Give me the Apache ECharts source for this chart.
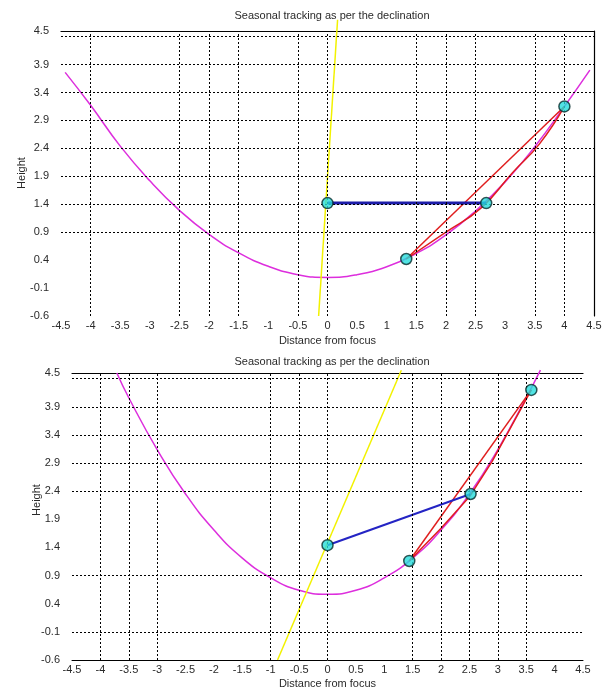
<!DOCTYPE html>
<html>
<head>
<meta charset="utf-8" />
<title>Seasonal tracking as per the declination</title>
<script src="https://cdn.jsdelivr.net/npm/echarts@6/dist/echarts.min.js"></script>
<style>
	html, body { margin:0; padding:0; background:#fff; }
	#main { width:609px; height:688px; }
</style>
</head>
<body>
<div id="main"></div>
<script type="text/javascript">
// ---- data ----
var titles = ['Seasonal tracking as per the declination', 'Seasonal tracking as per the declination'];
var xName = 'Distance from focus';
var yName = 'Height';

// upper plot
var topCurveX = [-4.43, -4, -3.5, -3, -2.5, -2, -1.5, -1, -0.5, 0, 0.5, 1, 1.5, 2, 2.5, 3, 3.5, 4, 4.43];
var topCurveY = [3.76, 3.17, 2.44, 1.82, 1.29, 0.86, 0.53, 0.29, 0.14, 0.09, 0.14, 0.28, 0.52, 0.85, 1.28, 1.8, 2.43, 3.15, 3.8];
var topAxisLineX = [-0.15, 0.17];
var topAxisLineY = [-0.6, 4.7];
var topBeamX = [0, 2.68];
var topBeamY = [1.42, 1.42];
var topRayAX = [1.33, 4.0];
var topRayAY = [0.42, 3.15];
var topRayBX = [1.33, 2.0, 2.6, 3.12, 3.58, 4.0];
var topRayBY = [0.42, 0.9, 1.34, 1.96, 2.48, 3.15];
var topPointsX = [0, 2.68, 1.33, 4.0];
var topPointsY = [1.42, 1.42, 0.42, 3.15];
var topGridX = [-4, -2.5, -2, -1.5, -0.5, 0, 1.5, 2, 2.5, 3.5, 4];
var topGridY = [0.9, 1.4, 1.9, 2.4, 2.9, 3.4, 3.9, 4.4];

// lower plot
var botCurveX = [-3.71, -3.5, -3, -2.5, -2, -1.5, -1, -0.5, 0, 0.5, 1, 1.5, 2, 2.5, 3, 3.5, 3.75];
var botCurveY = [4.5, 4.06, 3.14, 2.35, 1.71, 1.21, 0.86, 0.64, 0.57, 0.64, 0.86, 1.21, 1.71, 2.35, 3.14, 4.06, 4.55];
var botAxisLineX = [-0.88, 1.3];
var botAxisLineY = [-0.6, 4.55];
var botBeamX = [0, 2.52];
var botBeamY = [1.44, 2.35];
var botRayAX = [1.44, 3.59];
var botRayAY = [1.16, 4.2];
var botRayBX = [1.44, 2.0, 2.5, 2.9, 3.59];
var botRayBY = [1.16, 1.74, 2.3, 2.93, 4.2];
var botPointsX = [0, 2.52, 1.44, 3.59];
var botPointsY = [1.44, 2.35, 1.16, 4.2];
var botGridX = [-4, -3.5, -3, -1, -0.5, 0, 1.5, 2, 2.5, 3, 3.5];
var botGridY = [-0.1, 0.9, 2.4, 2.9, 3.4, 3.9, 4.4];

// ---- helpers ----
function zip(xs, ys) {
	var out = [];
	for (var i = 0; i < xs.length; i++) out.push([xs[i], ys[i]]);
	return out;
}
var txt = '#2a2a2a';
var font = 'Liberation Sans, Arial, sans-serif';

function lineSeries(xi, yi, xs, ys, color, width, z, smooth) {
	return {
		type: 'line', xAxisIndex: xi, yAxisIndex: yi,
		data: zip(xs, ys), showSymbol: false, symbol: 'none',
		clip: false, silent: true, z: z, smooth: !!smooth,
		lineStyle: { color: color, width: width }
	};
}
function gridSeries(xi, yi, gx, gy) {
	var lines = [];
	gx.forEach(function (v) { lines.push({ xAxis: v }); });
	gy.forEach(function (v) { lines.push({ yAxis: v }); });
	return {
		type: 'line', xAxisIndex: xi, yAxisIndex: yi, data: [], z: 1, silent: true,
		markLine: {
			silent: true, symbol: ['none', 'none'], animation: false,
			label: { show: false },
			lineStyle: { color: '#000', width: 1, type: [2, 2] },
			data: lines
		}
	};
}
function pointSeries(xi, yi, xs, ys) {
	return {
		type: 'scatter', xAxisIndex: xi, yAxisIndex: yi, data: zip(xs, ys),
		symbol: 'circle', symbolSize: 11, z: 6, silent: true,
		itemStyle: { color: '#26dcdc', borderColor: '#062c2c', borderWidth: 1.5 }
	};
}
function xMain(gi, showLine, gap) {
	return {
		type: 'value', gridIndex: gi, min: -4.5, max: 4.5, interval: 0.5,
		name: xName, nameLocation: 'middle', nameGap: gap,
		nameTextStyle: { color: txt, fontSize: 11, fontFamily: font },
		axisLine: { show: showLine, onZero: false, lineStyle: { color: '#000', width: 1 } },
		axisTick: { show: false },
		splitLine: { show: false },
		axisLabel: { color: txt, fontSize: 11, fontFamily: font, margin: 4 }
	};
}
function edgeAxis(type, gi, pos, min, max) {
	return {
		type: 'value', gridIndex: gi, position: pos, min: min, max: max,
		axisLine: { show: true, onZero: false, lineStyle: { color: '#000', width: 1.2 } },
		axisTick: { show: false }, axisLabel: { show: false }, splitLine: { show: false }
	};
}
function yMain(gi) {
	return {
		type: 'value', gridIndex: gi, min: -0.6, max: 4.5, interval: 0.5,
		axisLine: { show: false }, axisTick: { show: false }, splitLine: { show: false },
		axisLabel: { color: txt, fontSize: 11, fontFamily: font, margin: 12,
			showMinLabel: true, showMaxLabel: true, hideOverlap: false }
	};
}

var myChart = echarts.init(document.getElementById('main'), null, { renderer: 'canvas' });
var option = {
	backgroundColor: '#fff',
	animation: false,
	title: [
		{ text: titles[0], left: 327, top: 5, textAlign: 'center',
			textStyle: { color: txt, fontSize: 11, fontWeight: 'normal', fontFamily: font } },
		{ text: titles[1], left: 327, top: 351, textAlign: 'center',
			textStyle: { color: txt, fontSize: 11, fontWeight: 'normal', fontFamily: font } }
	],
	grid: [
		{ left: 61, top: 31, width: 533, height: 285, containLabel: false, outerBoundsMode: 'none' },
		{ left: 72, top: 373, width: 511, height: 287, containLabel: false, outerBoundsMode: 'none' }
	],
	xAxis: [
		xMain(0, false, 19),
		edgeAxis('x', 0, 'top', -4.5, 4.5),
		xMain(1, true, 18),
		edgeAxis('x', 1, 'top', -4.5, 4.5)
	],
	yAxis: [
		yMain(0),
		edgeAxis('y', 0, 'right', -0.6, 4.5),
		yMain(1)
	],
	graphic: [
		{ type: 'text', x: 22, y: 173, rotation: Math.PI / 2,
			style: { text: yName, fill: txt, font: '11px ' + font, align: 'center', verticalAlign: 'middle' } },
		{ type: 'text', x: 37, y: 500, rotation: Math.PI / 2,
			style: { text: yName, fill: txt, font: '11px ' + font, align: 'center', verticalAlign: 'middle' } }
	],
	series: [
		gridSeries(0, 0, topGridX, topGridY),
		lineSeries(0, 0, topCurveX, topCurveY, '#dd2edd', 1.5, 2, true),
		lineSeries(0, 0, topAxisLineX, topAxisLineY, '#f2f200', 1.5, 2),
		lineSeries(0, 0, topRayAX, topRayAY, '#e01e1e', 1.5, 3),
		lineSeries(0, 0, topRayBX, topRayBY, '#e01e1e', 1.5, 3, true),
		lineSeries(0, 0, topBeamX, topBeamY, '#1c1ca8', 3, 4),
		pointSeries(0, 0, topPointsX, topPointsY),

		gridSeries(2, 2, botGridX, botGridY),
		lineSeries(2, 2, botCurveX, botCurveY, '#dd2edd', 1.5, 2, true),
		lineSeries(2, 2, botAxisLineX, botAxisLineY, '#f2f200', 1.5, 2),
		lineSeries(2, 2, botRayAX, botRayAY, '#e01e1e', 1.5, 3),
		lineSeries(2, 2, botRayBX, botRayBY, '#e01e1e', 1.5, 3),
		lineSeries(2, 2, botBeamX, botBeamY, '#2424c4', 2, 4),
		pointSeries(2, 2, botPointsX, botPointsY)
	]
};
myChart.setOption(option);
</script>
</body>
</html>
